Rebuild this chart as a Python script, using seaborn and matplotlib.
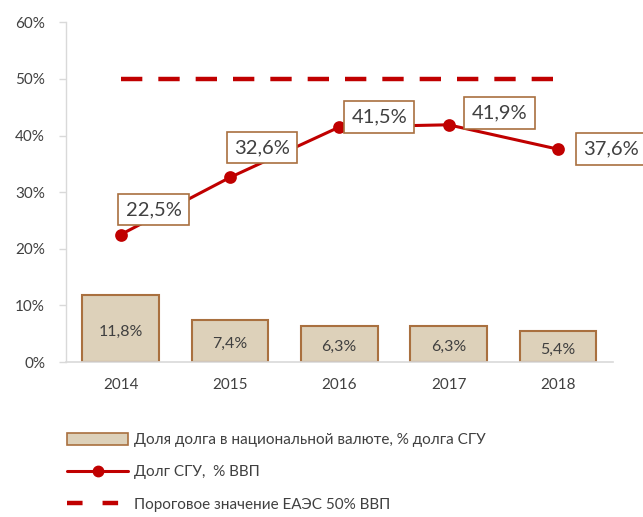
import matplotlib
matplotlib.use("Agg")
import matplotlib.pyplot as plt
from matplotlib.patches import Patch
from matplotlib.lines import Line2D
import seaborn as sns
import numpy as np
import pandas as pd

years = ["2014", "2015", "2016", "2017", "2018"]
share_national = [11.8, 7.4, 6.3, 6.3, 5.4]
debt_gdp = [22.5, 32.6, 41.5, 41.9, 37.6]
threshold = [50, 50, 50, 50, 50]
y_ticks = [0, 10, 20, 30, 40, 50, 60]

label_bar = "Доля долга в национальной валюте, % долга СГУ"
label_line = "Долг СГУ,  % ВВП"
label_thr = "Пороговое значение ЕАЭС 50% ВВП"

sns.set_style("white")
plt.rcParams["font.family"] = ["Lato", "DejaVu Sans"]

RED = "#C00000"
BEIGE = "#DDD1BA"
BROWN = "#A9703F"
TXT = "#404040"

fig = plt.figure(figsize=(6.43, 5.17), dpi=100)
ax = fig.add_axes([0.1026, 0.2998, 0.850, 0.657])

df = pd.DataFrame({"year": years, "share": share_national, "debt": debt_gdp})

sns.barplot(data=df, x="year", y="share", color=BEIGE, edgecolor=BROWN,
            linewidth=1.5, width=0.7, saturation=1, ax=ax)
sns.pointplot(data=df, x="year", y="debt", color=RED, markers="o",
              markersize=7.5, linewidth=2.2, ax=ax)
pos = np.arange(len(years))
ax.plot(pos, threshold, color=RED, lw=3.2, dashes=(4.8, 3.6), solid_capstyle="butt")

# bar labels
for i, v in enumerate(share_national):
    ax.text(i, v / 2 - 0.5, f"{v:.1f}%".replace(".", ","), ha="center", va="center",
            fontsize=11.5, color=TXT)

# line labels in boxes
offsets = [(33, 25), (32, 30), (40, 10), (51, 12), (53, 0)]
for i, (v, (dx, dy)) in enumerate(zip(debt_gdp, offsets)):
    ax.annotate(f"{v:.1f}%".replace(".", ","), (i, v), xytext=(dx * 0.72, dy * 0.72),
                textcoords="offset points", ha="center", va="center",
                fontsize=14.5, color=TXT,
                bbox=dict(boxstyle="square,pad=0.36", fc="white", ec=BROWN, lw=1.2),
                annotation_clip=False)

ax.set_ylim(0, 60)
ax.set_xlim(-0.5, 4.5)
ax.set_yticks(y_ticks)
ax.set_yticklabels([f"{t}%" for t in y_ticks])
ax.set_xlabel("")
ax.set_ylabel("")
ax.tick_params(axis="y", left=True, length=5, width=1, color="#D9D9D9",
               labelsize=11, labelcolor=TXT, pad=10)
ax.tick_params(axis="x", bottom=False, labelsize=11, labelcolor=TXT, pad=8)
for s in ["top", "right"]:
    ax.spines[s].set_visible(False)
ax.spines["left"].set_color("#D9D9D9")
ax.spines["bottom"].set_color("#D9D9D9")
ax.spines["left"].set_linewidth(1)
ax.spines["bottom"].set_linewidth(1.2)

handles = [
    Patch(facecolor=BEIGE, edgecolor=BROWN, lw=1.2),
    Line2D([0], [0], color=RED, lw=2.2, marker="o", markersize=7.5),
    Line2D([0], [0], color=RED, lw=3.2, dashes=(3.5, 4.5)),
]
fig.legend(handles, [label_bar, label_line, label_thr], loc="upper left",
           bbox_to_anchor=(0.095, 0.175), frameon=False, fontsize=11,
           labelcolor=TXT, handlelength=4.0, handleheight=0.9, handletextpad=0.4,
           labelspacing=1.15, borderaxespad=0)

fig.savefig("out.png", dpi=100)
